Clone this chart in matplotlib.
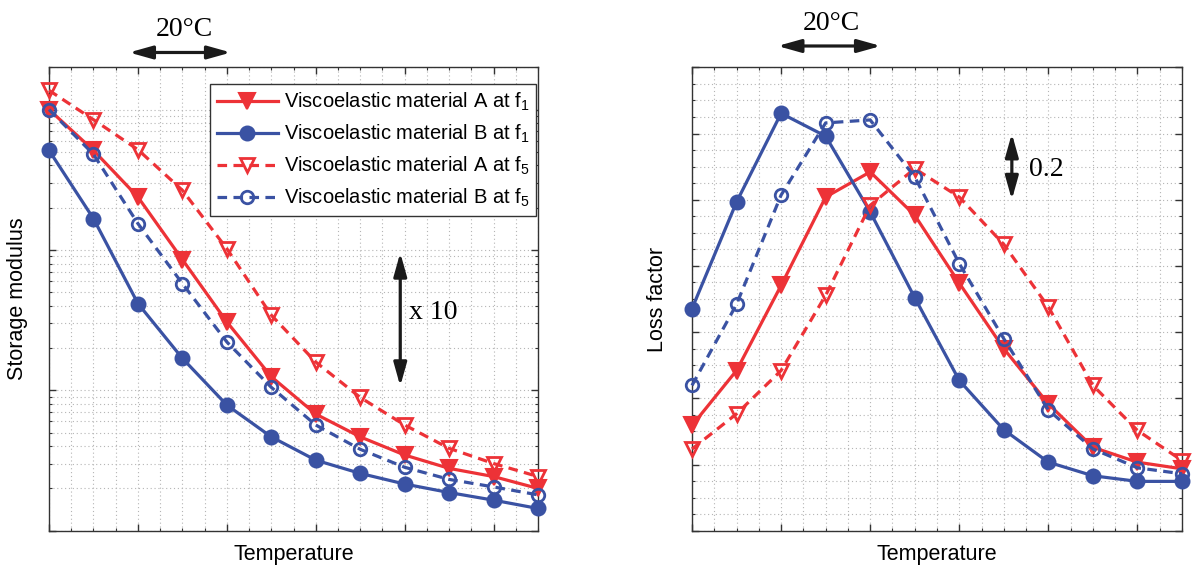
import numpy as np
import matplotlib
matplotlib.use("Agg")
import matplotlib.pyplot as plt
from matplotlib.ticker import MultipleLocator, LogLocator, NullFormatter

plt.rcParams["font.family"] = ["Liberation Sans", "DejaVu Sans"]
plt.rcParams["mathtext.fontset"] = "custom"
plt.rcParams["mathtext.rm"] = "Liberation Sans"
plt.rcParams["mathtext.it"] = "Liberation Sans:italic"

# temperature steps (arbitrary index, 2 steps = 20 degC)
temp = np.arange(12)

# storage modulus (log scale)
E_A_f1 = [1000, 512, 238, 85.4, 30.7, 12.5, 6.77, 4.66, 3.46, 2.78, 2.43, 2.00]
E_B_f1 = [512, 167, 41.5, 16.9, 7.85, 4.66, 3.18, 2.56, 2.15, 1.87, 1.65, 1.44]
E_A_f5 = [1370, 847, 518, 266, 102, 34.3, 15.9, 8.9, 5.66, 3.86, 3.01, 2.43]
E_B_f5 = [1000, 480, 154, 57.6, 22.1, 10.5, 5.66, 3.80, 2.83, 2.32, 2.05, 1.80]

# loss factor
eta_A_f1 = [0.318, 0.484, 0.741, 1.008, 1.084, 0.953, 0.748, 0.550, 0.383, 0.252, 0.207, 0.187]
eta_B_f1 = [0.671, 0.993, 1.261, 1.192, 0.963, 0.704, 0.454, 0.305, 0.207, 0.166, 0.149, 0.149]
eta_A_f5 = [0.247, 0.353, 0.484, 0.711, 0.983, 1.094, 1.008, 0.865, 0.676, 0.439, 0.303, 0.212]
eta_B_f5 = [0.439, 0.684, 1.014, 1.232, 1.241, 1.069, 0.807, 0.580, 0.365, 0.247, 0.190, 0.172]

labels = ["Viscoelastic material A at f$_1$",
          "Viscoelastic material B at f$_1$",
          "Viscoelastic material A at f$_5$",
          "Viscoelastic material B at f$_5$"]

RED = "#ED3237"
BLUE = "#3A52A3"
DASH = (0, (3.0, 2.0))

styles = [
    dict(color=RED, ls="-", marker="v", ms=11.5, mfc=RED, mec=RED, mew=1.5),
    dict(color=BLUE, ls="-", marker="o", ms=10, mfc=BLUE, mec=BLUE, mew=1.5),
    dict(color=RED, ls=DASH, marker="v", ms=10.5, mfc="none", mec=RED, mew=2.0),
    dict(color=BLUE, ls=DASH, marker="o", ms=9, mfc="none", mec=BLUE, mew=2.0),
]

fig = plt.figure(figsize=(11.96, 5.69), dpi=100)
ax1 = fig.add_axes([0.0410, 0.0673, 0.4089, 0.8144])
ax2 = fig.add_axes([0.5786, 0.0673, 0.4097, 0.8144])


def style_axes(ax):
    ax.set_xlim(0, 11)
    ax.xaxis.set_major_locator(MultipleLocator(2))
    ax.xaxis.set_minor_locator(MultipleLocator(0.5))
    ax.tick_params(which="both", direction="in", top=True, right=True,
                   labelbottom=False, labelleft=False, color="#333333")
    ax.tick_params(which="major", length=5, width=1)
    ax.tick_params(which="minor", length=2.5, width=0.8)
    ax.grid(True, which="both", ls=(0, (1, 2.5)), color="#b5b5b5", lw=0.8)
    ax.set_axisbelow(True)
    for s in ax.spines.values():
        s.set_color("#333333")
        s.set_linewidth(1.0)


def arrow(ax, p0, p1, coords="data"):
    ax.annotate("", xy=p1, xytext=p0, xycoords=coords, textcoords=coords,
                annotation_clip=False,
                arrowprops=dict(arrowstyle="<|-|>,head_length=1.0,head_width=0.28",
                                color="#1a1a1a", lw=2.3, mutation_scale=14,
                                shrinkA=0, shrinkB=0))


# ---- storage modulus ----
for y, st, lab in zip([E_A_f1, E_B_f1, E_A_f5, E_B_f5], styles, labels):
    ax1.plot(temp, y, lw=2.3, label=lab, clip_on=False, zorder=3, **st)
ax1.set_yscale("log")
ax1.set_ylim(1, 2000)
ax1.yaxis.set_major_locator(LogLocator(base=10))
ax1.yaxis.set_minor_locator(LogLocator(base=10, subs=np.arange(2, 10)))
ax1.yaxis.set_minor_formatter(NullFormatter())
style_axes(ax1)
ax1.set_xlabel("Temperature", fontsize=15.5)
ax1.set_ylabel("Storage modulus", fontsize=15.5)
ax1.xaxis.set_label_coords(0.5, -0.028)
ax1.yaxis.set_label_coords(-0.044, 0.5)

leg = ax1.legend(loc="upper right", bbox_to_anchor=(0.996, 0.964), fontsize=14.5,
                 handlelength=3.0, labelspacing=0.48, borderpad=0.35,
                 borderaxespad=0, handletextpad=0.3, fancybox=False,
                 framealpha=1, edgecolor="#333333")
leg.get_frame().set_linewidth(1.0)

arrow(ax1, (7.9, 10.7), (7.9, 95.5))
ax1.text(8.1, 35.7, "x 10", family="Liberation Serif", fontsize=20,
         va="center", ha="left")
arrow(ax1, (1.8, 1.032), (4.09, 1.032), coords=ax1.get_xaxis_transform())
ax1.text(3.04, 1.082, "20°C", transform=ax1.get_xaxis_transform(),
         family="Liberation Serif", fontsize=20, ha="center", va="center")

# ---- loss factor ----
for y, st in zip([eta_A_f1, eta_B_f1, eta_A_f5, eta_B_f5], styles):
    ax2.plot(temp, y, lw=2.3, clip_on=False, zorder=3, **st)
ax2.set_ylim(0, 1.4)
ax2.yaxis.set_major_locator(MultipleLocator(0.2))
ax2.yaxis.set_minor_locator(MultipleLocator(0.05))
style_axes(ax2)
ax2.set_xlabel("Temperature", fontsize=15.5)
ax2.set_ylabel("Loss factor", fontsize=15.5)
ax2.xaxis.set_label_coords(0.5, -0.028)
ax2.yaxis.set_label_coords(-0.049, 0.5)

arrow(ax2, (7.18, 1.0), (7.18, 1.2))
ax2.text(7.56, 1.092, "0.2", family="Liberation Serif", fontsize=20,
         va="center", ha="left")
arrow(ax2, (1.92, 1.046), (4.24, 1.046), coords=ax2.get_xaxis_transform())
ax2.text(3.12, 1.095, "20°C", transform=ax2.get_xaxis_transform(),
         family="Liberation Serif", fontsize=20, ha="center", va="center")

fig.savefig("out.png", dpi=100)
